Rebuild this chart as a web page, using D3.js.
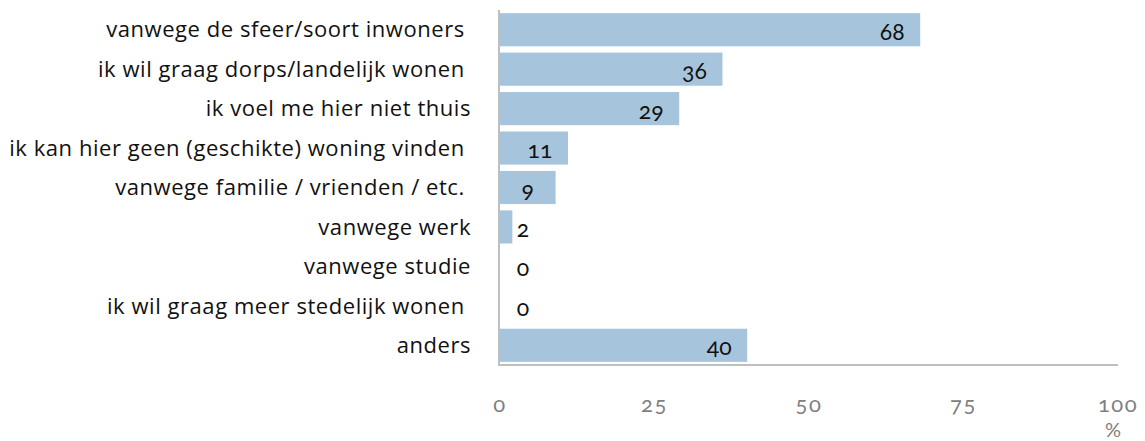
<!DOCTYPE html>
<html>
<head>
<meta charset="utf-8">
<script src="https://cdn.jsdelivr.net/npm/d3@7"></script>
<style>
  body { margin: 0; background: #fff; }
  svg { font-family: Lato, "Open Sans", sans-serif; }
  .cat { font-family: "Open Sans", Lato, sans-serif; }
  .num { font-variant-numeric: oldstyle-nums; font-feature-settings: "onum"; }
</style>
</head>
<body>
<div id="chart"></div>
<script>
const categories = [
  "vanwege de sfeer/soort inwoners ",
  "ik wil graag dorps/landelijk wonen ",
  "ik voel me hier niet thuis",
  "ik kan hier geen (geschikte) woning vinden ",
  "vanwege familie / vrienden / etc. ",
  "vanwege werk",
  "vanwege studie",
  "ik wil graag meer stedelijk wonen ",
  "anders"
];
const values = [68, 36, 29, 11, 9, 2, 0, 0, 40];
const ticks = [0, 25, 50, 75, 100];

const width = 1145, height = 441;
const plotLeft = 500, plotRight = 1118, plotTop = 10, plotBottom = 365;

const svg = d3.select("#chart").append("svg")
  .attr("width", width)
  .attr("height", height);

const x = d3.scaleLinear().domain([0, 100]).range([plotLeft, plotRight]);
const y = d3.scaleBand().domain(categories).range([plotTop, plotBottom]).paddingInner(0.16).paddingOuter(0.08);

// bars
svg.selectAll(".bar")
  .data(categories)
  .enter()
  .append("rect")
  .attr("class", "bar")
  .attr("x", x(0))
  .attr("y", (d) => y(d))
  .attr("width", (d, i) => x(values[i]) - x(0))
  .attr("height", y.bandwidth())
  .attr("fill", "#a6c5dd");

// axis lines
svg.append("line")
  .attr("x1", plotLeft - 1).attr("x2", plotLeft - 1)
  .attr("y1", plotTop).attr("y2", plotBottom + 1)
  .attr("stroke", "#bfbfbf").attr("stroke-width", 2);
svg.append("line")
  .attr("x1", plotLeft - 2).attr("x2", plotRight)
  .attr("y1", plotBottom).attr("y2", plotBottom)
  .attr("stroke", "#bfbfbf").attr("stroke-width", 2);

// category labels
svg.selectAll(".cat")
  .data(categories)
  .enter()
  .append("text")
  .attr("class", "cat")
  .attr("x", 471)
  .attr("y", (d) => y(d) + y.bandwidth() / 2)
  .attr("dy", "0.35em")
  .attr("text-anchor", "end")
  .style("white-space", "pre")
  .style("font-size", "22px")
  .style("letter-spacing", "0.55px")
  .attr("fill", "#111")
  .text((d) => d);

// value labels
svg.selectAll(".val")
  .data(categories)
  .enter()
  .append("text")
  .attr("class", "val num")
  .attr("x", (d, i) => Math.max(x(values[i]) - 28, x(0) + 23))
  .attr("y", (d) => y(d) + y.bandwidth() / 2 + 2)
  .attr("dy", "0.35em")
  .attr("text-anchor", "middle")
  .style("font-size", "23px")
  .attr("fill", "#111")
  .text((d, i) => values[i]);

// x tick labels
svg.selectAll(".tick")
  .data(ticks)
  .enter()
  .append("text")
  .attr("class", "tick num")
  .attr("x", (d) => x(d))
  .attr("y", 404)
  .attr("dy", "0.35em")
  .attr("text-anchor", "middle")
  .style("font-size", "22px")
  .style("letter-spacing", "1.5px")
  .attr("fill", "#808080")
  .text((d) => d);

svg.append("text")
  .attr("x", 1113)
  .attr("y", 430)
  .attr("dy", "0.35em")
  .attr("text-anchor", "middle")
  .style("font-size", "20px")
  .attr("fill", "#808080")
  .text("%");
</script>
</body>
</html>
